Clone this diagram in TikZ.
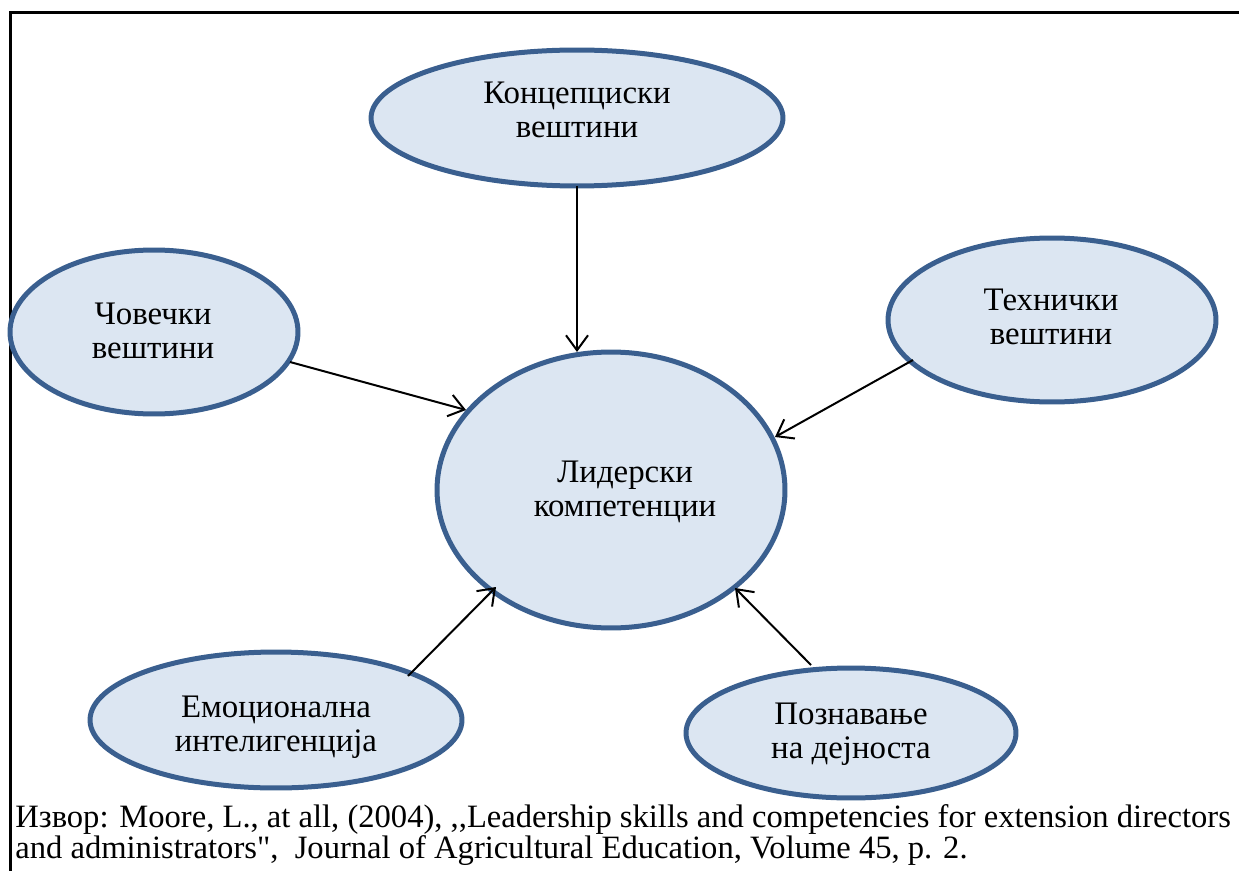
\documentclass[tikz,border=0pt]{standalone}
\usepackage{fontspec}
\setmainfont{Liberation Serif}[Ligatures=TeXOff]
\usetikzlibrary{shapes.geometric,arrows.meta}
\definecolor{bordeazul}{HTML}{3A5F8F}
\definecolor{rellenoazul}{HTML}{DCE6F2}
\tikzset{
  elipse/.style={draw=bordeazul,fill=rellenoazul,line width=0.1cm,ellipse,inner sep=0pt},
  texto/.style={align=center,font=\fontsize{18.7}{19.4}\selectfont},
  flecha/.style={-{Straight Barb[length=0.3cm,width=0.44cm]},line width=0.04cm}
}
\begin{document}
\begin{tikzpicture}[x=0.02cm,y=-0.02cm]
    		\useasboundingbox (0,0) rectangle (1239,871);
    		%marco
    		\draw [line width=0.06cm] (10.5,871) -- (10.5,12.5) -- (1239,12.5);
  		%%%% ELIPSES!!!
  		\path (577,118) node[elipse,minimum width=8.24cm,minimum height=2.72cm] (conc) {};
  		\path (154,332) node[elipse,minimum width=5.76cm,minimum height=3.28cm] (chov) {};
  		\path (1052,320) node[elipse,minimum width=6.56cm,minimum height=3.28cm] (tehn) {};
  		\path (611,490) node[elipse,minimum width=6.96cm,minimum height=5.52cm] (lid) {};
  		\path (276,720) node[elipse,minimum width=7.44cm,minimum height=2.72cm] (emo) {};
  		\path (851,733) node[elipse,minimum width=6.60cm,minimum height=2.60cm] (pozn) {};
  		%%%TEXTOS
  		\node[texto] at (577,110) (tconc) {Концепциски\\вештини};
  		\node[texto] at (153,331) (tchov) {Човечки\\вештини};
  		\node[texto] at (1051,317) (ttehn) {Технички\\вештини};
  		\node[texto] at (625,492) (tlid) {Лидерски\\компетенции};
  		\node[texto] at (276,727) (temo) {Емоционална\\интелигенција};
  		\node[texto] at (851,734) (tpozn) {Познавање\\на дејноста};
  		%Flechas
  		\coordinate (a1) at (577,186); \coordinate (b1) at (577,352);
  		\coordinate (a2) at (290,362); \coordinate (b2) at (466,410);
  		\coordinate (a3) at (913,360); \coordinate (b3) at (775,437);
  		\coordinate (a4) at (408,676); \coordinate (b4) at (496,587);
  		\coordinate (a5) at (811,665); \coordinate (b5) at (735,588);
  		\draw[flecha] (a1) -- (b1);
  		\draw[flecha] (a2) -- (b2);
  		\draw[flecha] (a3) -- (b3);
  		\draw[flecha] (a4) -- (b4);
  		\draw[flecha] (a5) -- (b5);
  		%fuente
  		\node[anchor=north west,align=left,inner sep=0pt,font=\fontsize{18.55}{17}\selectfont] at (15,804) (fuente) {Извор: Moore, L., at all, (2004), ,,Leadership skills and competencies for extension directors\\and administrators",\ \ Journal of Agricultural Education, Volume 45, p. 2.};
	\end{tikzpicture}
\end{document}
